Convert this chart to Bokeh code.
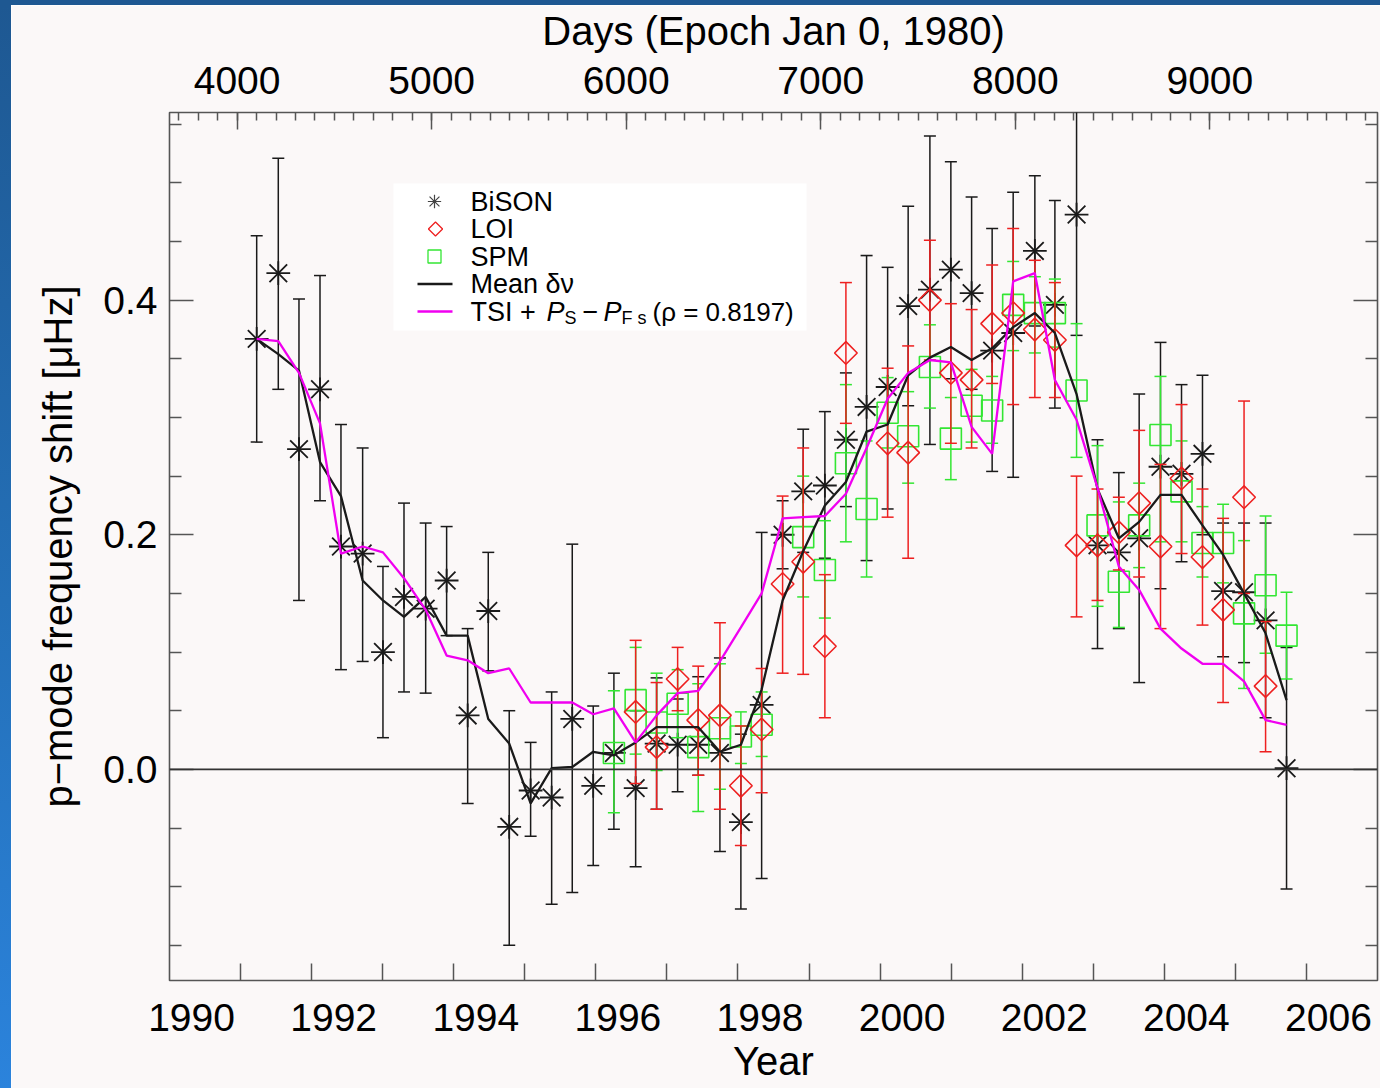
import numpy as np
from bokeh.plotting import figure
from bokeh.models import Range1d, LinearAxis, FixedTicker, CustomJSTickFormatter, Div, Span
from bokeh.layouts import column, row
from bokeh.core.properties import value
from bokeh.embed import file_html
from bokeh.resources import INLINE

# ---------------- data ----------------
bison_year = [1991.227, 1991.531, 1991.822, 1992.118, 1992.413, 1992.718, 1993.004, 1993.300, 1993.605, 1993.900,
              1994.196, 1994.486, 1994.781, 1995.082, 1995.378, 1995.668, 1995.963, 1996.254, 1996.560, 1996.855,
              1997.151, 1997.441, 1997.746, 1998.041, 1998.333, 1998.628, 1998.918, 1999.223, 1999.519, 1999.810,
              2000.106, 2000.395, 2000.701, 2000.996, 2001.288, 2001.577, 2001.873, 2002.178, 2002.460, 2002.765,
              2003.060, 2003.360, 2003.646, 2003.946, 2004.242, 2004.537, 2004.827, 2005.122, 2005.425, 2005.720]
bison_val = [0.367, 0.423, 0.273, 0.324, 0.190, 0.184, 0.100, 0.147, 0.137, 0.161,
             0.046, 0.135, -0.049, -0.018, -0.024, 0.043, -0.014, 0.014, -0.016, 0.022,
             0.021, 0.021, 0.014, -0.045, 0.055, 0.200, 0.237, 0.242, 0.281, 0.309,
             0.326, 0.395, 0.409, 0.426, 0.406, 0.357, 0.372, 0.442, 0.396, 0.473,
             0.191, 0.185, 0.197, 0.258, 0.252, 0.269, 0.152, 0.151, 0.127, 0.001]
bison_hi = [0.455, 0.521, 0.401, 0.421, 0.294, 0.274, 0.173, 0.227, 0.210, 0.207,
            0.120, 0.185, 0.050, 0.023, 0.066, 0.192, 0.054, 0.082, 0.050, 0.078,
            0.060, 0.079, 0.095, 0.030, 0.202, 0.229, 0.290, 0.305, 0.338, 0.438,
            0.428, 0.480, 0.540, 0.518, 0.488, 0.461, 0.492, 0.506, 0.485, 0.600,
            0.281, 0.253, 0.320, 0.364, 0.328, 0.336, 0.210, 0.210, 0.210, 0.104]
bison_lo = [0.279, 0.324, 0.144, 0.229, 0.085, 0.092, 0.027, 0.066, 0.065, 0.114,
            -0.029, 0.084, -0.150, -0.057, -0.115, -0.105, -0.082, -0.051, -0.083, -0.034,
            -0.019, -0.005, -0.070, -0.119, -0.093, 0.171, 0.185, 0.180, 0.224, 0.178,
            0.222, 0.310, 0.277, 0.333, 0.324, 0.254, 0.249, 0.378, 0.308, 0.370,
            0.103, 0.120, 0.074, 0.154, 0.177, 0.200, 0.096, 0.091, 0.044, -0.102]

mean_val = [0.367, 0.354, 0.340, 0.262, 0.233, 0.161, 0.144, 0.130, 0.147, 0.114,
            0.114, 0.043, 0.022, -0.029, 0.001, 0.002, 0.015, 0.012, 0.023, 0.036,
            0.036, 0.036, 0.015, 0.021, 0.068, 0.144, 0.186, 0.225, 0.245, 0.288,
            0.294, 0.336, 0.351, 0.360, 0.349, 0.359, 0.377, 0.389, 0.372, 0.320,
            0.239, 0.197, 0.211, 0.234, 0.234, 0.208, 0.183, 0.150, 0.116, 0.059]
tsi_val = [0.367, 0.365, 0.338, 0.295, 0.184, 0.190, 0.185, 0.163, 0.136, 0.097,
           0.093, 0.082, 0.086, 0.057, 0.057, 0.057, 0.047, 0.052, 0.023, 0.046,
           0.065, 0.067, 0.092, 0.121, 0.150, 0.214, 0.215, 0.216, 0.235, 0.274,
           0.316, 0.338, 0.349, 0.347, 0.292, 0.269, 0.416, 0.423, 0.332, 0.298,
           0.240, 0.173, 0.153, 0.120, 0.103, 0.090, 0.090, 0.075, 0.042, 0.038]

loi_year = [1996.560, 1996.855, 1997.151, 1997.441, 1997.746, 1998.041, 1998.333, 1998.628, 1998.918, 1999.223,
            1999.519, 2000.106, 2000.395, 2000.701, 2000.996, 2001.288, 2001.577, 2001.873, 2002.178, 2002.460,
            2002.765, 2003.060, 2003.360, 2003.646, 2003.946, 2004.242, 2004.537, 2004.827, 2005.122, 2005.425]
loi_val = [0.049, 0.019, 0.077, 0.042, 0.046, -0.014, 0.034, 0.158, 0.177, 0.105,
           0.355, 0.278, 0.270, 0.400, 0.338, 0.332, 0.380, 0.389, 0.375, 0.366,
           0.191, 0.191, 0.202, 0.227, 0.190, 0.248, 0.181, 0.136, 0.232, 0.071]
loi_hi = [0.110, 0.074, 0.104, 0.088, 0.125, 0.037, 0.086, 0.233, 0.274, 0.166,
          0.415, 0.342, 0.361, 0.451, 0.397, 0.392, 0.430, 0.461, 0.434, 0.415,
          0.250, 0.239, 0.232, 0.289, 0.260, 0.311, 0.239, 0.214, 0.314, 0.126]
loi_lo = [-0.012, -0.034, 0.050, -0.005, -0.034, -0.065, -0.020, 0.082, 0.081, 0.044,
          0.295, 0.215, 0.180, 0.349, 0.278, 0.274, 0.329, 0.311, 0.317, 0.317,
          0.130, 0.144, 0.170, 0.164, 0.120, 0.184, 0.123, 0.057, 0.150, 0.015]

spm_year = [1996.254, 1996.560, 1996.855, 1997.151, 1997.441, 1997.746, 1998.041, 1998.333, 1998.918, 1999.223,
            1999.519, 1999.810, 2000.106, 2000.395, 2000.701, 2000.996, 2001.288, 2001.577, 2001.873, 2002.178,
            2002.460, 2002.765, 2003.060, 2003.360, 2003.646, 2003.946, 2004.242, 2004.537, 2004.827, 2005.122,
            2005.425, 2005.720]
spm_val = [0.014, 0.059, 0.040, 0.056, 0.019, 0.035, 0.028, 0.038, 0.198, 0.170,
           0.261, 0.222, 0.304, 0.284, 0.343, 0.282, 0.310, 0.306, 0.396, 0.389,
           0.389, 0.323, 0.208, 0.160, 0.208, 0.285, 0.237, 0.193, 0.193, 0.133,
           0.157, 0.114]
spm_hi = [0.067, 0.104, 0.082, 0.085, 0.073, 0.090, 0.049, 0.066, 0.250, 0.212,
          0.328, 0.280, 0.334, 0.322, 0.379, 0.317, 0.341, 0.335, 0.433, 0.420,
          0.418, 0.380, 0.276, 0.228, 0.244, 0.335, 0.280, 0.224, 0.226, 0.195,
          0.216, 0.151]
spm_lo = [-0.037, 0.013, -0.001, 0.027, -0.036, -0.017, 0.005, 0.011, 0.147, 0.129,
          0.194, 0.164, 0.274, 0.244, 0.308, 0.247, 0.279, 0.278, 0.357, 0.355,
          0.360, 0.266, 0.139, 0.121, 0.172, 0.194, 0.194, 0.164, 0.159, 0.069,
          0.099, 0.077]

year_tick_labels = ["1990", "1992", "1994", "1996", "1998", "2000", "2002", "2004", "2006"]
year_minor_ticks = [1991, 1992, 1993, 1994, 1995, 1996, 1997, 1998, 1999, 2000, 2001, 2002, 2003, 2004, 2005, 2006]
day_ticks = [4000, 5000, 6000, 7000, 8000, 9000]
day_minor_ticks = list(range(3700, 9900, 100))
y_ticks = [0.0, 0.2, 0.4]
y_minor_ticks = [-0.15, -0.10, -0.05, 0.05, 0.10, 0.15, 0.25, 0.30, 0.35, 0.45, 0.50, 0.55]

legend_labels = ["BiSON", "LOI", "SPM", "Mean \u03b4\u03bd"]

# ---------------- styling / geometry ----------------
FONT = "Liberation Sans"
X0, X1 = 1990.0, 2007.0
Y0, Y1 = -0.18, 0.56
DAY0, DAY1 = (X0 - 1980.0) * 365.25, (X1 - 1980.0) * 365.25
LABEL_SHIFT = 0.31          # the year labels sit a little right of their ticks
BG = "#fbf8f8"
RED = "#ee2020"
GREEN = "#33e633"
MAG = "#f000f0"
BLK = "#1a1a1a"

W, H = 1369, 1083
ML, MR, MT, MB = 158, 3, 107, 108
OFFX, OFFY = 11, 5          # page offset of figure (blue strips)

FX0, FX1 = OFFX + ML, OFFX + W - MR
FY0, FY1 = OFFY + MT, OFFY + H - MB


def px_x(px):
    return X0 + (px - FX0) * (X1 - X0) / (FX1 - FX0)


def px_y(py):
    return Y1 - (py - FY0) * (Y1 - Y0) / (FY1 - FY0)


p = figure(width=W, height=H, x_range=Range1d(X0, X1), y_range=Range1d(Y0, Y1),
           output_backend="svg", toolbar_location=None,
           min_border_left=ML, min_border_right=MR, min_border_top=MT, min_border_bottom=MB,
           background_fill_color=BG, border_fill_color=BG)
p.grid.visible = False
p.outline_line_color = "#555555"
p.outline_line_width = 1.6
p.extra_x_ranges = {"days": Range1d(DAY0, DAY1)}


def style_axis(ax, major_in, minor_in):
    ax.axis_line_color = None
    ax.major_tick_in = major_in
    ax.major_tick_out = 0
    ax.minor_tick_in = minor_in
    ax.minor_tick_out = 0
    ax.major_tick_line_color = "#555555"
    ax.minor_tick_line_color = "#555555"
    ax.major_tick_line_width = 1.5
    ax.minor_tick_line_width = 1.5
    ax.major_label_text_font = FONT
    ax.major_label_text_font_size = "39px"
    ax.major_label_text_color = "black"
    ax.axis_label_text_font = FONT
    ax.axis_label_text_font_size = "40px"
    ax.axis_label_text_font_style = "normal"
    ax.axis_label_text_color = "black"


# bottom: years
xb = p.xaxis[0]
xb.ticker = FixedTicker(ticks=[int(s) + LABEL_SHIFT for s in year_tick_labels], minor_ticks=year_minor_ticks)
xb.formatter = CustomJSTickFormatter(code="return Math.floor(tick + 1e-6).toFixed(0);")
style_axis(xb, 0, 17)
xb.major_label_standoff = 23
xb.axis_label = "Year"
xb.axis_label_standoff = 5

# left
yl = p.yaxis[0]
yl.ticker = FixedTicker(ticks=y_ticks, minor_ticks=y_minor_ticks)
yl.formatter = CustomJSTickFormatter(code="return tick.toFixed(1);")
style_axis(yl, 24, 12)
yl.major_label_standoff = 12
yl.axis_label = "p\u2212mode frequency shift [\u03bcHz]"
yl.axis_label_standoff = 20

# top: days
xt = LinearAxis(x_range_name="days",
                ticker=FixedTicker(ticks=day_ticks, minor_ticks=day_minor_ticks),
                formatter=CustomJSTickFormatter(code="return tick.toFixed(0);"))
style_axis(xt, 17, 8)
xt.major_label_standoff = 19
xt.axis_label = "Days (Epoch Jan 0, 1980)"
xt.axis_label_standoff = 11
p.add_layout(xt, "above")

# right
yr = LinearAxis(ticker=FixedTicker(ticks=y_ticks, minor_ticks=y_minor_ticks),
                formatter=CustomJSTickFormatter(code="return '';"))
style_axis(yr, 24, 12)
yr.major_label_standoff = 0
p.add_layout(yr, "right")

# zero line
p.add_layout(Span(location=0.0, dimension="width", line_color="#333333", line_width=1.6))

CAP = 12


def errorbars(xs, lo, hi, color, lw=1.5):
    p.segment(x0=xs, y0=lo, x1=xs, y1=hi, line_color=color, line_width=lw)
    p.scatter(xs, hi, marker="dash", size=CAP, line_color=color, line_width=lw)
    p.scatter(xs, lo, marker="dash", size=CAP, line_color=color, line_width=lw)


def star(xs, ys, size, color, lw):
    p.scatter(xs, ys, marker="x", size=size, line_color=color, line_width=lw)
    p.scatter(xs, ys, marker="cross", size=size * 0.95, line_color=color, line_width=lw)


# BiSON
errorbars(bison_year, bison_lo, bison_hi, BLK)
star(bison_year, bison_val, 25, BLK, 1.8)
# SPM
errorbars(spm_year, spm_lo, spm_hi, GREEN)
p.scatter(spm_year, spm_val, marker="square", size=21, line_color=GREEN, fill_color=None, line_width=1.6)
# LOI
errorbars(loi_year, loi_lo, loi_hi, RED)
p.scatter(loi_year, loi_val, marker="square", angle=np.pi / 4, size=16, line_color=RED, fill_color=None,
          line_width=1.6)
# lines
p.line(bison_year, mean_val, line_color=BLK, line_width=2.3)
p.line(bison_year, tsi_val, line_color=MAG, line_width=2.3)

# ---------------- hand-made legend ----------------
rows = [201, 228.5, 256, 283.5, 311]   # page-pixel row centres
p.quad(left=[px_x(393)], right=[px_x(806)], top=[px_y(183)], bottom=[px_y(330)],
       fill_color="white", line_color=None)
star([px_x(434)], [px_y(rows[0])], 14, "#444444", 1.2)
p.scatter([px_x(435)], [px_y(rows[1])], marker="square", angle=np.pi / 4, size=10, line_color=RED,
          fill_color=None, line_width=1.3)
p.scatter([px_x(434)], [px_y(rows[2])], marker="square", size=13, line_color=GREEN, fill_color=None, line_width=1.3)
p.line([px_x(417), px_x(452)], [px_y(rows[3]), px_y(rows[3])], line_color=BLK, line_width=2.3)
p.line([px_x(417), px_x(452)], [px_y(rows[4]), px_y(rows[4])], line_color=MAG, line_width=2.3)

p.text(x=[px_x(470)] * 4, y=[px_y(r) for r in rows[:4]], text=legend_labels,
       text_font=value(FONT), text_font_size="27px", text_baseline="middle", text_align="left",
       text_color="black")
# TSI + P_S - P_Fs (rho = 0.8197)
c = rows[4]
pieces = [
    (470, c, "TSI +", "27px", "normal"),
    (546, c, "P", "27px", "italic"),
    (564, c + 6, "S", "18px", "normal"),
    (582, c, "\u2212", "27px", "normal"),
    (603, c, "P", "27px", "italic"),
    (621, c + 6, "F s", "18px", "normal"),
    (652, c, "(\u03c1 = 0.8197)", "26px", "normal"),
]
for (xx, yy, tt, fs, st) in pieces:
    p.text(x=[px_x(xx)], y=[px_y(yy)], text=[tt], text_font=value(FONT), text_font_size=fs,
           text_font_style=st, text_baseline="middle", text_align="left", text_color="black")

# ---------------- page with blue strips ----------------
top_strip = Div(text="", width=W + OFFX, height=OFFY, margin=0,
                styles={"background-color": "#1e5892"})
left_strip = Div(text="", width=OFFX, height=H, margin=0,
                 styles={"background": "linear-gradient(180deg, #1e5892 0%, #2470b8 55%, #2b83dc 100%)"})
layout = column(top_strip, row(left_strip, p, spacing=0, margin=0), spacing=0, margin=0)

open("out.html", "w").write(file_html(layout, INLINE))
